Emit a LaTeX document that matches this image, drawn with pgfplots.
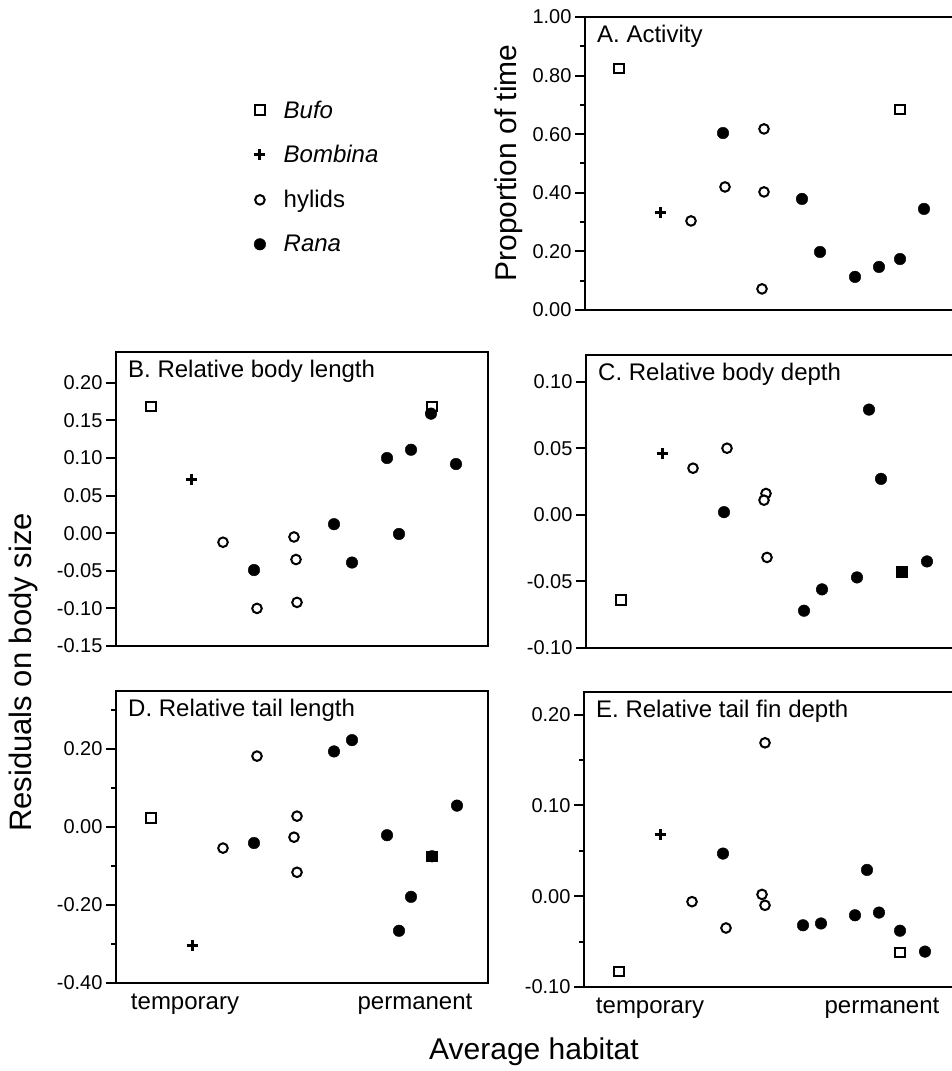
\documentclass[border=0pt]{standalone}
\usepackage{fontspec}
\setmainfont{Liberation Sans}
\usepackage{pgfplots}
\pgfplotsset{compat=1.18}
\pgfplotsset{
  panel/.style={
    scale only axis, width=372pt, xmin=0, xmax=372,
    axis line style={line width=2.2pt},
    ytick pos=left, xtick=\empty,
    tick align=outside, major tick length=10pt, minor tick length=5pt,
    tick style={line width=2pt, black},
    scaled y ticks=false,
    yticklabel style={font=\fontsize{20}{24}\selectfont,
      /pgf/number format/fixed, /pgf/number format/fixed zerofill,
      /pgf/number format/precision=2, /pgf/number format/assume math mode=true},
    xticklabel style={font=\fontsize{24}{28}\selectfont, yshift=3pt},
    title style={at={(axis description cs:0,1)}, anchor=north west, xshift=12pt, yshift=-14pt, inner sep=0pt, font=\fontsize{24}{28}\selectfont},
    clip=false,
  },
  bufo/.style={only marks, mark=square*, mark size=4.6pt, mark options={fill=white, draw=black, line width=2pt}},
  bombina/.style={only marks, mark=+, mark size=5.5pt, mark options={line width=3pt, draw=black}},
  hylid/.style={only marks, mark=*, mark size=4.8pt, mark options={fill=white, draw=black, line width=2pt}},
  rana/.style={only marks, mark=*, mark size=5.8pt, mark options={fill=black, draw=black}},
}
\begin{document}
\begin{tikzpicture}[x=1pt,y=1pt]
\useasboundingbox (0,0) rectangle (951,1071);
% Panel A
\begin{axis}[panel, at={(585pt,761pt)}, anchor=south west, height=293pt,
  ymin=0, ymax=1, ytick={0,0.2,0.4,0.6,0.8,1.0}, minor ytick={0.1,0.3,0.5,0.7,0.9},
  title={A. Activity},
  legend style={at={(axis description cs:-0.890,0.454)}, anchor=west, draw=none, fill=none,
    font=\fontsize{24}{28}\selectfont, row sep=22pt, column sep=16pt, inner sep=0pt},
  legend cell align=left]
\addplot[bufo] coordinates {(34,0.823) (315,0.683)};
\addlegendentry{\textit{Bufo}}
\addplot[bombina] coordinates {(75,0.334)};
\addlegendentry{\textit{Bombina}}
\addplot[hylid] coordinates {(106,0.304) (140,0.420) (179,0.618) (179,0.403) (177,0.072)};
\addlegendentry{hylids}
\addplot[rana] coordinates {(138,0.604) (217,0.379) (235,0.198) (270,0.113) (294,0.147) (315,0.174) (339,0.345)};
\addlegendentry{\textit{Rana}}
\end{axis}
% Panel B
\begin{axis}[panel, at={(116pt,425pt)}, anchor=south west, height=294pt,
  ymin=-0.15, ymax=0.241, ytick={-0.15,-0.10,-0.05,0,0.05,0.10,0.15,0.20},
  title={B. Relative body length}]
\addplot[bufo] coordinates {(35,0.169) (316,0.169)};
\addplot[bombina] coordinates {(75,0.072)};
\addplot[hylid] coordinates {(107,-0.012) (141,-0.100) (178,-0.005) (180,-0.035) (181,-0.092)};
\addplot[rana] coordinates {(138,-0.049) (218,0.012) (236,-0.039) (271,0.100) (283,-0.001) (295,0.111) (315,0.159) (340,0.092)};
\end{axis}
% Panel C
\begin{axis}[panel, at={(586pt,423pt)}, anchor=south west, height=293pt,
  ymin=-0.10, ymax=0.120, ytick={-0.10,-0.05,0,0.05,0.10},
  title={C. Relative body depth}]
\addplot[bufo] coordinates {(35,-0.064) (316,-0.043)};
\addplot[bombina] coordinates {(76,0.046)};
\addplot[hylid] coordinates {(107,0.035) (141,0.050) (180,0.016) (178,0.011) (181,-0.032)};
\addplot[rana] coordinates {(138,0.002) (218,-0.072) (236,-0.056) (271,-0.047) (283,0.079) (295,0.027) (316,-0.043) (341,-0.035)};
\end{axis}
% Panel D
\begin{axis}[panel, at={(116pt,88pt)}, anchor=south west, height=292pt,
  ymin=-0.40, ymax=0.349, ytick={-0.40,-0.20,0,0.20}, minor ytick={-0.30,-0.10,0.10,0.30},
  xtick={69,299}, xticklabels={temporary,permanent}, x tick style={draw=none},
  title={D. Relative tail length}]
\addplot[bufo] coordinates {(35,0.023) (316,-0.075)};
\addplot[bombina] coordinates {(76,-0.303)};
\addplot[hylid] coordinates {(107,-0.054) (141,0.182) (181,0.028) (178,-0.026) (181,-0.116)};
\addplot[rana] coordinates {(138,-0.041) (218,0.194) (236,0.223) (271,-0.021) (283,-0.266) (295,-0.179) (316,-0.075) (341,0.055)};
\end{axis}
% Panel E
\begin{axis}[panel, at={(584pt,84pt)}, anchor=south west, height=295pt,
  ymin=-0.10, ymax=0.225, ytick={-0.10,0,0.10,0.20}, minor ytick={-0.05,0.05,0.15},
  xtick={66,298}, xticklabels={temporary,permanent}, x tick style={draw=none},
  title={E. Relative tail fin depth}]
\addplot[bufo] coordinates {(35,-0.083) (316,-0.062)};
\addplot[bombina] coordinates {(76,0.068)};
\addplot[hylid] coordinates {(108,-0.006) (142,-0.035) (181,0.169) (178,0.002) (181,-0.010)};
\addplot[rana] coordinates {(139,0.047) (219,-0.032) (237,-0.030) (271,-0.021) (283,0.029) (295,-0.018) (316,-0.038) (341,-0.061)};
\end{axis}
\node[rotate=90, font=\fontsize{30}{36}\selectfont] at (509,908) {Proportion of time};
\node[rotate=90, font=\fontsize{31}{36}\selectfont] at (23,398.5) {Residuals on body size};
\node[anchor=base, font=\fontsize{30}{36}\selectfont] at (534,11) {Average habitat};
\end{tikzpicture}
\end{document}
